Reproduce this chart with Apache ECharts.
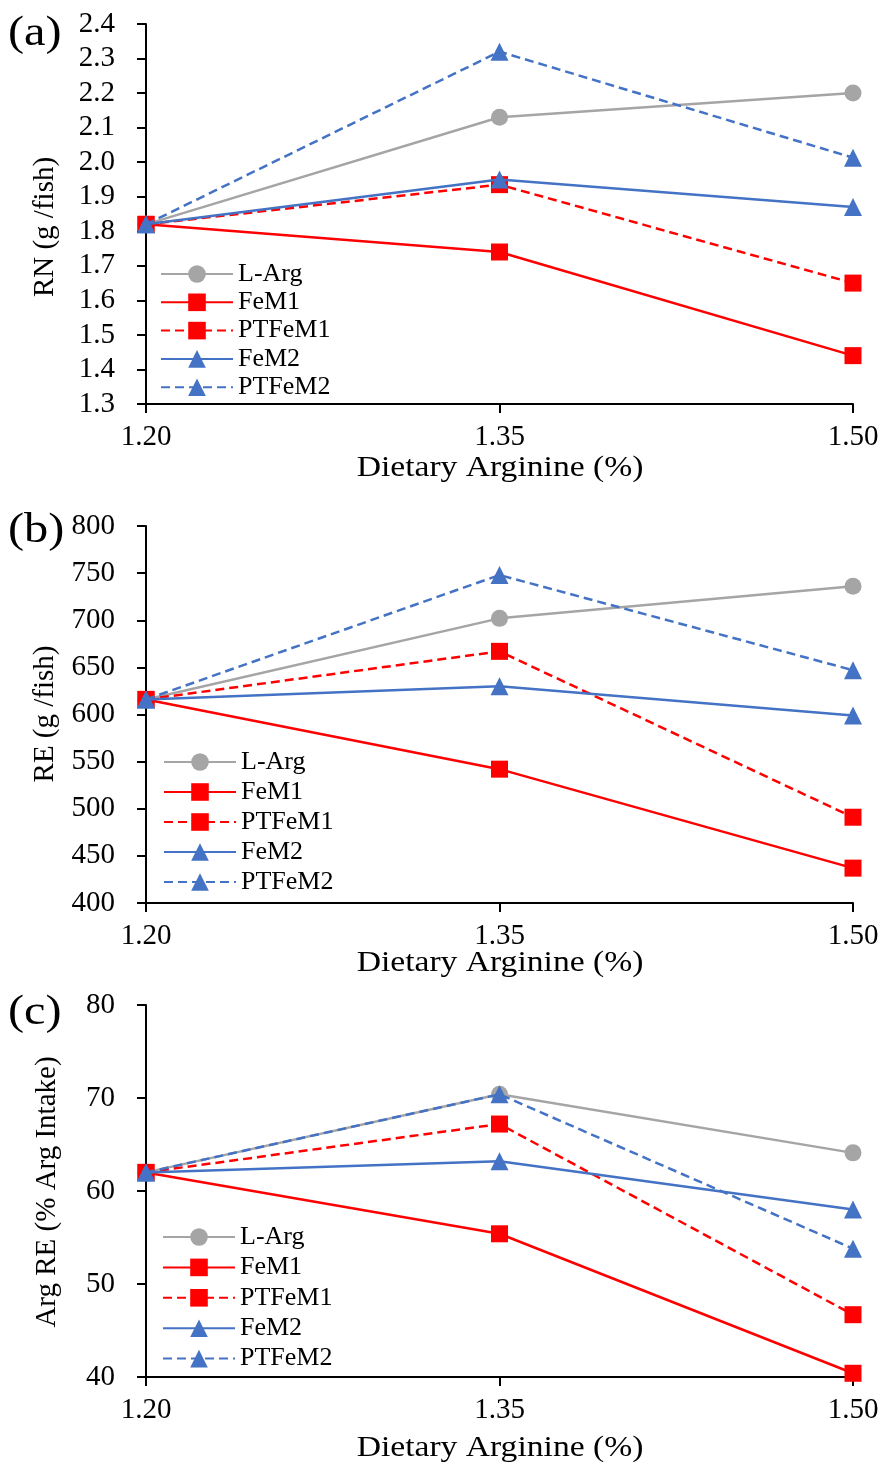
<!DOCTYPE html>
<html>
<head>
<meta charset="utf-8">
<script src="https://cdn.jsdelivr.net/npm/echarts@6/dist/echarts.min.js"></script>
<style>
html,body{margin:0;padding:0;background:#fff;}
#chart{width:884px;height:1467px;}
</style>
</head>
<body>
<div id="chart"></div>
<script>
const xCats = ['1.20', '1.35', '1.50'];
const seriesNames = ['L-Arg', 'FeM1', 'PTFeM1', 'FeM2', 'PTFeM2'];

// Panel (a) RN (g/fish)
const rnLArg   = [1.82, 2.13, 2.20];
const rnFeM1   = [1.82, 1.74, 1.44];
const rnPTFeM1 = [1.82, 1.935, 1.65];
const rnFeM2   = [1.82, 1.95, 1.87];
const rnPTFeM2 = [1.82, 2.32, 2.013];

// Panel (b) RE (g/fish)
const reLArg   = [616, 702, 736];
const reFeM1   = [616, 542, 437];
const rePTFeM1 = [616, 667, 491];
const reFeM2   = [616, 630, 599];
const rePTFeM2 = [616, 748, 647];

// Panel (c) Arg RE (% Arg intake)
const argLArg   = [62.0, 70.4, 64.1];
const argFeM1   = [62.0, 55.4, 40.4];
const argPTFeM1 = [62.0, 67.2, 46.7];
const argFeM2   = [62.0, 63.2, 58.0];
const argPTFeM2 = [62.0, 70.4, 53.8];

const yLabelsA = {min: 1.3, max: 2.4, interval: 0.1, digits: 1};
const yLabelsB = {min: 400, max: 800, interval: 50, digits: 0};
const yLabelsC = {min: 40, max: 80, interval: 10, digits: 0};

const FONT = '"Liberation Serif", "Times New Roman", serif';
const GRAY = '#A5A5A5', RED = '#FF0000', BLUE = '#4472C4';
const styles = [
  {color: GRAY, symbol: 'circle', size: 17, type: 'solid'},
  {color: RED, symbol: 'rect', size: 17, type: 'solid'},
  {color: RED, symbol: 'rect', size: 17, type: [9, 5]},
  {color: BLUE, symbol: 'triangle', size: 18, type: 'solid'},
  {color: BLUE, symbol: 'triangle', size: 18, type: [9, 5]}
];

const panels = [
  {data: [rnLArg, rnFeM1, rnPTFeM1, rnFeM2, rnPTFeM2], y: yLabelsA,
   grid: {top: 24, height: 380}, legendTop: 261, legendGap: 2.3, legendLeft: 160,
   yName: 'RN (g /fish)', yNameX: 45, yNameY: 227, label: '(a)', labelY: 34, xTitleY: 468},
  {data: [reLArg, reFeM1, rePTFeM1, reFeM2, rePTFeM2], y: yLabelsB,
   grid: {top: 526, height: 377}, legendTop: 749, legendGap: 4, legendLeft: 163,
   yName: 'RE (g /fish)', yNameX: 45, yNameY: 714, label: '(b)', labelY: 531, xTitleY: 963},
  {data: [argLArg, argFeM1, argPTFeM1, argFeM2, argPTFeM2], y: yLabelsC,
   grid: {top: 1005, height: 372}, legendTop: 1224, legendGap: 4.4, legendLeft: 162,
   yName: 'Arg RE (% Arg Intake)', yNameX: 47, yNameY: 1192, label: '(c)', labelY: 1013, xTitleY: 1448}
];

const grids = [], xAxes = [], yAxes = [], series = [], legends = [], graphics = [];
panels.forEach((p, i) => {
  grids.push({left: 146, right: 31, top: p.grid.top, height: p.grid.height, containLabel: false});
  xAxes.push({
    type: 'category', gridIndex: i, data: xCats, boundaryGap: false,
    axisLine: {lineStyle: {color: '#000', width: 2}},
    axisTick: {show: true, length: 9, lineStyle: {color: '#000', width: 2}},
    axisLabel: {color: '#000', fontFamily: FONT, fontSize: 29, margin: 19},
    splitLine: {show: false}
  });
  yAxes.push({
    type: 'value', gridIndex: i, min: p.y.min, max: p.y.max, interval: p.y.interval,
    axisLine: {show: true, lineStyle: {color: '#000', width: 2}},
    axisTick: {show: true, length: 9, lineStyle: {color: '#000', width: 2}},
    axisLabel: {color: '#000', fontFamily: FONT, fontSize: 29, margin: 31,
      formatter: v => Number(v).toFixed(p.y.digits)},
    splitLine: {show: false}
  });
  seriesNames.forEach((name, k) => {
    const s = styles[k];
    series.push({
      id: name + '_' + i, name: name, type: 'line', xAxisIndex: i, yAxisIndex: i,
      data: p.data[k], symbol: s.symbol, symbolSize: s.size,
      lineStyle: {color: s.color, width: 2.5, type: s.type},
      itemStyle: {color: s.color},
      showSymbol: true, animation: false, z: 2 + k
    });
  });
  legends.push({
    show: true, orient: 'vertical', left: p.legendLeft, top: p.legendTop,
    padding: 0, itemGap: p.legendGap, itemWidth: 72, itemHeight: 22,
    data: seriesNames,
    textStyle: {color: '#000', fontFamily: FONT, fontSize: 26, lineHeight: 26},
    selectedMode: false
  });
  graphics.push({
    type: 'text', x: p.yNameX, y: p.yNameY, rotation: Math.PI / 2,
    style: {text: p.yName, fill: '#000', font: '29px ' + FONT, align: 'center', verticalAlign: 'middle'}
  });
  graphics.push({
    type: 'text', x: 8, y: p.labelY, scaleX: 1.15,
    style: {text: p.label, fill: '#000', font: '42px ' + FONT, align: 'left', verticalAlign: 'middle'}
  });
  graphics.push({
    type: 'text', x: 500, y: p.xTitleY, scaleX: 1.12,
    style: {text: 'Dietary Arginine (%)', fill: '#000', font: '30px ' + FONT, align: 'center', verticalAlign: 'middle'}
  });
});

const chart = echarts.init(document.getElementById('chart'), null, {renderer: 'canvas'});
chart.setOption({
  backgroundColor: '#fff',
  animation: false,
  grid: grids, xAxis: xAxes, yAxis: yAxes, series: series, legend: legends,
  graphic: graphics
});
</script>
</body>
</html>
